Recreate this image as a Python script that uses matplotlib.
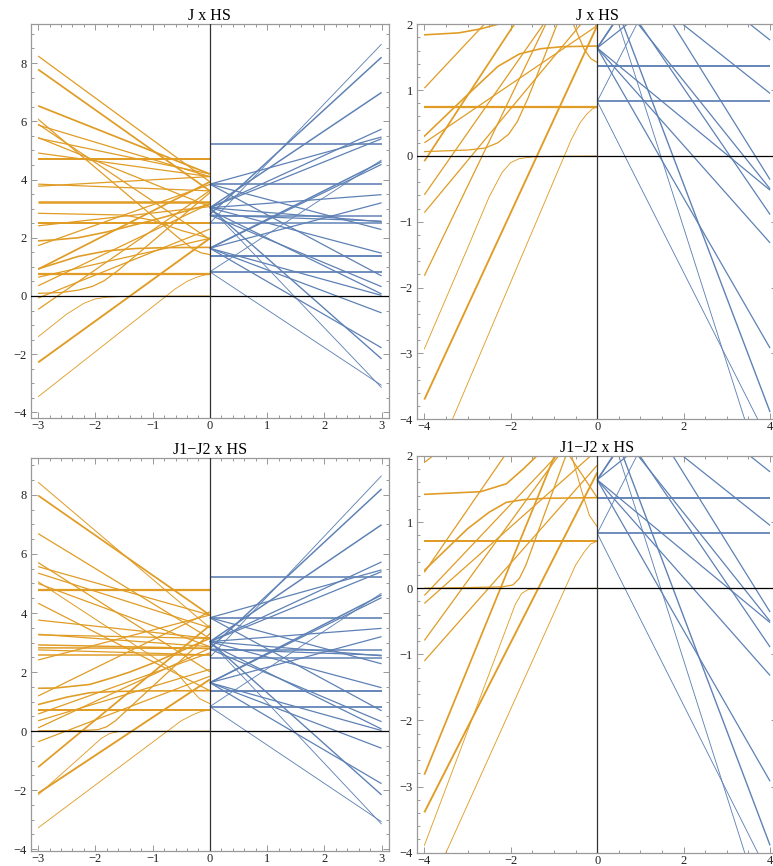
import numpy as np
import matplotlib
matplotlib.use("Agg")
import matplotlib.pyplot as plt
from matplotlib.patches import Rectangle
from matplotlib.ticker import MultipleLocator

ORANGE = "#e09c24"
BLUE = "#5e81b5"

# ---- blue branch (x > 0), identical in both rows: value at x=0, slope, weight
blue_y0 = [5.22, 3.84, 2.75, 2.49, 1.37, 0.83,
           0.83, 2.50, 2.80, 3.03, 3.03, 3.84, 3.03, 1.64, 1.64, 3.03, 1.64, 2.78,
           3.84, 3.84, 3.03, 2.95, 3.03, 2.78, 1.64, 1.64, 1.64, 3.03, 0.83, 3.03]
blue_slope = [0, 0, 0, 0, 0, 0,
              1.28, 2.05, 1.80, 1.32, 0.90, 0.54, 0.79, 0.99, 0.96, 0.15, 0.52, -0.07,
              -0.52, -1.05, -0.52, -0.96, -1.73, -0.82, -0.54, -0.74, -1.14, -2.06, -1.30, -0.16]
blue_w = [1.3, 1.3, 1.2, 1.2, 1.5, 1.4,
          0.7, 0.7, 1.2, 1.2, 1.0, 1.0, 1.0, 1.2, 1.0, 1.0, 1.0, 1.0,
          1.0, 1.0, 1.0, 1.0, 1.1, 1.0, 1.0, 1.0, 1.0, 0.7, 0.7, 1.0]

# ---- orange branch (x < 0), top row "J x HS": straight levels
top_y0 = [3.92, 3.61, 4.19, 1.94, 4.10, 3.07, 4.19, 4.10, 4.71, 4.10, 3.61,
          3.22, 2.52, 3.07, 3.83, 0.75, 3.92, 3.17, 2.30, 3.62, 1.98, 1.98]
top_slope = [-1.44, -1.39, -0.78, -1.32, -0.59, -0.79, -0.41, -0.27, 0, 0.11, -0.077,
             0, 0, 0.22, 0.70, 0, 1.00, 0.94, 0.79, 1.36, 1.42, 0.445]
top_w = [1.0, 1.4, 1.4, 1.0, 1.0, 1.0, 1.0, 1.0, 1.6, 1.0, 1.0,
         2.0, 1.6, 1.0, 1.0, 1.8, 1.4, 1.0, 1.0, 1.0, 1.5, 1.0]

# top row curved levels (avoided crossings), sampled points
top_curve_x = [[-4.0, -3.35, -0.6, -0.4, -0.25, -0.12, 0.0],
               [-4.0, -3.0, -2.5, -2.2, -2.0, -1.8, -1.5, -1.0, 0.0],
               [-4.0, -3.0, -2.6, -2.3, -2.05, -1.85, -1.6, 0.0],
               [-4.0, -3.2, -2.7, -2.3, -1.8, -1.0, 0.0],
               [-4.0, -3.0, -2.3, -1.8, -1.3, -0.8, 0.0],
               [-4.0, -3.0, -0.55, -0.3, -0.15, 0.0],
               [-4.0, -3.0, -1.5, -1.0, -0.5, 0.0]]
top_curve_y = [[-5.0, -4.0, 0.25, 0.5, 0.63, 0.71, 0.75],
               [-2.93, -1.4, -0.62, -0.25, -0.1, -0.04, -0.015, -0.005, 0.0],
               [0.066, 0.09, 0.12, 0.2, 0.33, 0.52, 0.88, 3.55],
               [1.84, 1.87, 1.93, 2.0, 2.2, 2.6, 3.15],
               [0.3, 0.93, 1.36, 1.55, 1.63, 1.66, 1.67],
               [7.73, 6.07, 2.0, 1.62, 1.48, 1.42],
               [2.86, 2.84, 2.78, 2.6, 2.25, 1.98]]
top_curve_w = [0.7, 0.7, 1.0, 1.3, 1.3, 1.0, 1.0]

# ---- orange branch, bottom row "J1-J2 x HS": straight levels
bot_y0 = [3.50, 3.93, 3.14, 2.01, 3.93, 3.50, 2.86, 4.78, 1.37, 3.14, 2.86,
          3.14, 2.80, 2.80, 2.58, 2.58, 3.93, 4.04, 0.71, 2.65, 2.09, 2.81,
          1.86, 1.75, 3.58]
bot_slope = [-1.643, -1.35, -1.183, -1.233, -0.547, -0.617, -0.713, 0, -0.987, -0.207, -0.14,
             -0.04, -0.04, -0.007, -0.057, 0, 0.507, 0.95, 0, 0.69, 0.58, 0.90,
             0.74, 1.285, 1.60]
bot_w = [0.8, 1.4, 1.0, 1.0, 1.0, 1.0, 1.0, 1.8, 1.0, 1.0, 1.0,
         1.0, 1.2, 1.2, 1.0, 1.2, 1.0, 1.0, 1.6, 1.0, 1.0, 1.0,
         1.0, 1.5, 1.4]

bot_curve_x = [[-4.0, -3.5, -0.5, -0.3, -0.15, 0.0],
               [-4.0, -2.1, -1.9, -1.75, -1.6, -1.3, 0.0],
               [-4.0, -3.0, -2.2, -1.95, -1.8, -1.65, -1.4, 0.0],
               [-4.0, -2.7, -2.1, -1.7, -1.4, -1.0, 0.0],
               [-4.0, -3.0, -2.5, -2.1, -1.7, -1.2, 0.0],
               [-4.0, -3.0, -0.59, -0.35, -0.18, 0.0]]
bot_curve_y = [[-4.72, -4.0, 0.35, 0.55, 0.67, 0.71],
               [-3.89, -0.6, -0.25, -0.08, -0.02, -0.005, 0.0],
               [0.0, 0.01, 0.02, 0.05, 0.15, 0.35, 0.8, 3.3],
               [1.42, 1.46, 1.58, 1.81, 2.0, 2.3, 3.14],
               [0.27, 0.9, 1.15, 1.3, 1.34, 1.36, 1.37],
               [6.33, 5.06, 2.0, 1.45, 1.1, 0.93]]
bot_curve_w = [0.7, 0.7, 1.0, 1.3, 1.3, 0.8]

plt.rcParams["font.family"] = ["Liberation Serif", "DejaVu Serif"]
plt.rcParams["axes.unicode_minus"] = True

fig = plt.figure(figsize=(7.73, 8.66), dpi=100)

W, H = 773.0, 866.0
LW = 0.9

def px_axes(x0, x1, y0, y1):
    return fig.add_axes([x0 / W, 1 - y1 / H, (x1 - x0) / W, (y1 - y0) / H])

def draw(ax, lo, hi, ylim, y0s, slopes, ws, cxs, cys, cws):
    ylo, yhi = ylim
    # orange levels on x < 0
    xs = np.array([lo, 0.0])
    for y0, s, w in zip(y0s, slopes, ws):
        ax.plot(xs, y0 + s * xs, color=ORANGE, lw=w * LW, solid_capstyle="butt")
    clip = Rectangle((lo, ylo), -lo, yhi - ylo, transform=ax.transData)
    for cx, cy, w in zip(cxs, cys, cws):
        ln, = ax.plot(cx, cy, color=ORANGE, lw=w * LW)
        ln.set_clip_path(clip)
    # blue levels on x > 0
    xs = np.array([0.0, hi])
    for y0, s, w in zip(blue_y0, blue_slope, blue_w):
        ax.plot(xs, y0 + s * xs, color=BLUE, lw=w * LW, solid_capstyle="butt")
    ax.axhline(0, color="black", lw=0.9, zorder=3)
    ax.axvline(0, color="#333333", lw=0.9, zorder=3)

def style(ax, xlim, ylim, xmaj, xmin, ymaj, ymin, title):
    ax.set_xlim(*xlim)
    ax.set_ylim(*ylim)
    ax.xaxis.set_major_locator(MultipleLocator(xmaj))
    ax.xaxis.set_minor_locator(MultipleLocator(xmin))
    ax.yaxis.set_major_locator(MultipleLocator(ymaj))
    ax.yaxis.set_minor_locator(MultipleLocator(ymin))
    ax.tick_params(which="both", direction="in", top=True, right=True,
                   color="#888888", width=0.6, labelsize=9, labelcolor="#222222")
    ax.tick_params(axis="x", pad=1.5)
    ax.tick_params(axis="y", pad=3)
    ax.tick_params(which="major", length=4)
    ax.tick_params(which="minor", length=2)
    for sp in ax.spines.values():
        sp.set_color("#999999")
        sp.set_linewidth(0.9)
    ax.set_title(title, fontsize=11.5, pad=2)

t_left = "J x HS"
t_bot = "J1\u2212J2 x HS"

ax1 = px_axes(30.7, 389, 24.3, 418.3)
draw(ax1, -3, 3, (-4.2, 9.33), top_y0, top_slope, top_w, top_curve_x, top_curve_y, top_curve_w)
style(ax1, (-3.13, 3.13), (-4.2, 9.33), 1, 0.2, 2, 0.5, t_left)

ax2 = px_axes(417, 777, 24.3, 419.3)
draw(ax2, -4, 4, (-4, 2), top_y0, top_slope, top_w, top_curve_x, top_curve_y, top_curve_w)
style(ax2, (-4.17, 4.16), (-4, 2), 2, 0.5, 1, 0.2, t_left)

ax3 = px_axes(30.7, 389, 457.7, 851)
draw(ax3, -3, 3, (-4.06, 9.26), bot_y0, bot_slope, bot_w, bot_curve_x, bot_curve_y, bot_curve_w)
style(ax3, (-3.13, 3.13), (-4.06, 9.26), 1, 0.2, 2, 0.5, t_bot)

ax4 = px_axes(417, 777, 456, 852.7)
draw(ax4, -4, 4, (-4, 2), bot_y0, bot_slope, bot_w, bot_curve_x, bot_curve_y, bot_curve_w)
style(ax4, (-4.17, 4.16), (-4, 2), 2, 0.5, 1, 0.2, t_bot)

fig.savefig("out.png", dpi=100)
